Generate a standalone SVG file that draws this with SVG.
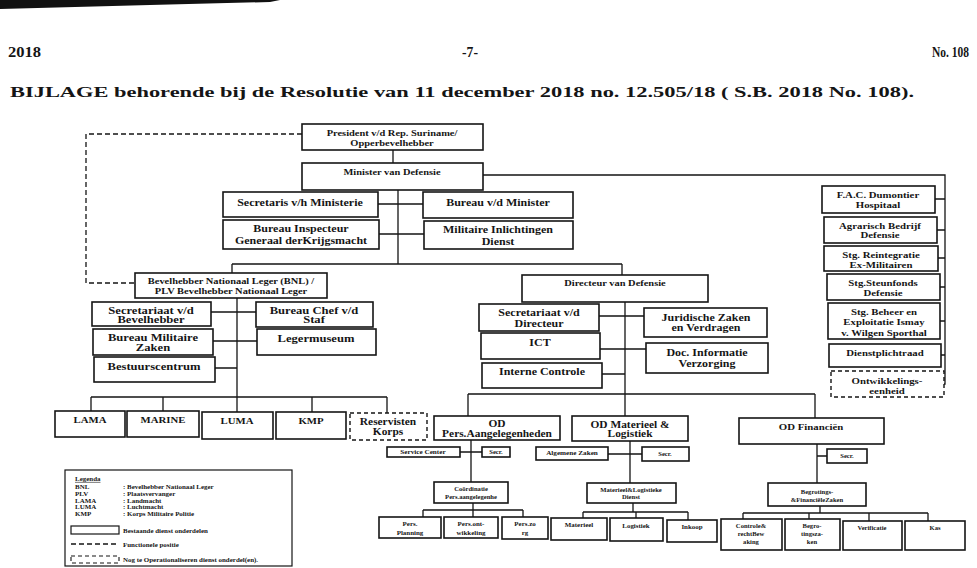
<svg xmlns="http://www.w3.org/2000/svg" width="977" height="568" viewBox="0 0 977 568">
<style>
.b{fill:#fff;stroke:#151515;stroke-width:1.6}
.d{fill:#fff;stroke:#151515;stroke-width:1.4;stroke-dasharray:4 3}
.ln{fill:none;stroke:#151515;stroke-width:1.3}
.dl{fill:none;stroke:#151515;stroke-width:1.3;stroke-dasharray:5 3}
text{font-family:"Liberation Serif","Times New Roman",serif;font-weight:bold;fill:#151515;text-anchor:middle}
.s{text-anchor:start}
.e{text-anchor:end}
.f10{font-size:10px}.f105{font-size:10.5px}.f9{font-size:9px}.f87{font-size:8.7px}.f95{font-size:9.5px}
.f7{font-size:6.7px}.f6{font-size:6px}.f58{font-size:5.8px}.f65{font-size:6.5px}.f55{font-size:5.5px}
</style>
<rect width="977" height="568" fill="#fff"/>
<path d="M0 0H280L270 2L150 5L0 9Z" fill="#111"/>
<g id="header">
<text class="s" x="8" y="57" font-size="14" textLength="33" lengthAdjust="spacingAndGlyphs">2018</text>
<text x="470" y="57" font-size="14" textLength="16" lengthAdjust="spacingAndGlyphs">-7-</text>
<text class="e" x="969" y="57" font-size="14" textLength="37" lengthAdjust="spacingAndGlyphs">No. 108</text>
<text class="s" x="10" y="97" font-size="14.5" textLength="904" lengthAdjust="spacingAndGlyphs">BIJLAGE behorende bij de Resolutie van 11 december 2018 no. 12.505/18 ( S.B. 2018 No. 108).</text>
</g>
<g id="connectors">
<path class="ln" d="M393 150V163"/>
<path class="ln" d="M483 175H945V384H944"/>
<path class="ln" d="M935 199H945M937 230H945M938 258H945M940 287H945M940 321H945M941 355H945"/>
<path class="ln" d="M398 190V264M378 204H423M379 234H424M232 264H622M232 264V273M622 264V275"/>
<path class="dl" d="M302 134H86V283H135"/>
<path class="ln" d="M237 298V397M211 312H256M213 341H257M215 368H237M91 397H387M91 397V411M163 397V411M237 397V412M312 397V412M387 397V413"/>
<path class="ln" d="M625 302V416M599 316H644M600 349H646M602 374H625M468 394H815M468 394V416M815 394V418"/>
<path class="ln" d="M471 440V482M460 452H482M630 441V483M608 454H642M817 444V483M817 456H827"/>
<path class="ln" d="M473 503V510M423 510H523M423 510V517M473 510V517M523 510V517"/>
<path class="ln" d="M633 503V512M583 512H688M583 512V518M636 512V518M688 512V520"/>
<path class="ln" d="M820 506V513M743 513H928M743 513V519M809 513V519M869 513V521M928 513V521"/>
</g>
<g id="president"><rect class="b" x="302" y="124" width="181" height="26"/>
<text class="f87" transform="matrix(1.2 0 0 1 392 0)" y="136">President v/d Rep. Suriname/</text>
<text class="f87" transform="matrix(1.2 0 0 1 392 0)" y="146">Opperbevelhebber</text></g>
<g id="minister"><rect class="b" x="302" y="163" width="181" height="27"/>
<text class="f87" transform="matrix(1.2 0 0 1 392 0)" y="175">Minister van Defensie</text></g>
<g id="secretaris"><rect class="b" x="223" y="192" width="155" height="25"/>
<text class="f10" transform="matrix(1.2 0 0 1 300 0)" y="206">Secretaris v/h Ministerie</text></g>
<g id="bureau-minister"><rect class="b" x="423" y="192" width="150" height="26"/>
<text class="f10" transform="matrix(1.2 0 0 1 498 0)" y="206">Bureau v/d Minister</text></g>
<g id="bureau-inspecteur"><rect class="b" x="223" y="220" width="156" height="29"/>
<text class="f10" transform="matrix(1.2 0 0 1 301 0)" y="232">Bureau Inspecteur</text>
<text class="f10" transform="matrix(1.2 0 0 1 301 0)" y="244">Generaal derKrijgsmacht</text></g>
<g id="mid"><rect class="b" x="424" y="221" width="149" height="28"/>
<text class="f10" transform="matrix(1.2 0 0 1 498 0)" y="233">Militaire Inlichtingen</text>
<text class="f10" transform="matrix(1.2 0 0 1 498 0)" y="245">Dienst</text></g>
<g id="fac"><rect class="b" x="822" y="186" width="113" height="27"/>
<text class="f9" transform="matrix(1.2 0 0 1 878 0)" y="198">F.A.C. Dumontier</text>
<text class="f9" transform="matrix(1.2 0 0 1 878 0)" y="208">Hospitaal</text></g>
<g id="agrarisch"><rect class="b" x="824" y="217" width="113" height="26"/>
<text class="f9" transform="matrix(1.2 0 0 1 880 0)" y="229">Agrarisch Bedrijf</text>
<text class="f9" transform="matrix(1.2 0 0 1 880 0)" y="238">Defensie</text></g>
<g id="reintegratie"><rect class="b" x="824" y="246" width="114" height="25"/>
<text class="f9" transform="matrix(1.2 0 0 1 881 0)" y="258">Stg. Reintegratie</text>
<text class="f9" transform="matrix(1.2 0 0 1 881 0)" y="268">Ex-Militairen</text></g>
<g id="steunfonds"><rect class="b" x="827" y="274" width="113" height="26"/>
<text class="f9" transform="matrix(1.2 0 0 1 883 0)" y="286">Stg.Steunfonds</text>
<text class="f9" transform="matrix(1.2 0 0 1 883 0)" y="296">Defensie</text></g>
<g id="sporthal"><rect class="b" x="828" y="303" width="112" height="36"/>
<text class="f9" transform="matrix(1.2 0 0 1 884 0)" y="315">Stg. Beheer en</text>
<text class="f9" transform="matrix(1.2 0 0 1 884 0)" y="325">Exploitatie Ismay</text>
<text class="f9" transform="matrix(1.2 0 0 1 884 0)" y="336">v. Wilgen Sporthal</text></g>
<g id="dienstplichtraad"><rect class="b" x="829" y="344" width="112" height="23"/>
<text class="f9" transform="matrix(1.2 0 0 1 885 0)" y="356">Dienstplichtraad</text></g>
<g id="ontwikkelings"><rect class="d" x="831" y="371" width="113" height="26"/>
<text class="f9" transform="matrix(1.2 0 0 1 887 0)" y="384">Ontwikkelings-</text>
<text class="f9" transform="matrix(1.2 0 0 1 887 0)" y="394">eenheid</text></g>
<g id="bnl"><rect class="b" x="135" y="273" width="192" height="25"/>
<text class="f87" transform="matrix(1.2 0 0 1 231 0)" y="284">Bevelhebber Nationaal Leger (BNL) /</text>
<text class="f87" transform="matrix(1.2 0 0 1 231 0)" y="294">PLV Bevelhebber Nationaal Leger</text></g>
<g id="sec-bevelhebber"><rect class="b" x="92" y="302" width="119" height="24"/>
<text class="f105" transform="matrix(1.2 0 0 1 151 0)" y="314">Secretariaat v/d</text>
<text class="f105" transform="matrix(1.2 0 0 1 151 0)" y="323">Bevelhebber</text></g>
<g id="chef-staf"><rect class="b" x="256" y="302" width="117" height="25"/>
<text class="f105" transform="matrix(1.2 0 0 1 314 0)" y="314">Bureau Chef v/d</text>
<text class="f105" transform="matrix(1.2 0 0 1 314 0)" y="323">Staf</text></g>
<g id="militaire-zaken"><rect class="b" x="93" y="329" width="120" height="26"/>
<text class="f105" transform="matrix(1.2 0 0 1 153 0)" y="341">Bureau Militaire</text>
<text class="f105" transform="matrix(1.2 0 0 1 153 0)" y="351">Zaken</text></g>
<g id="legermuseum"><rect class="b" x="257" y="329" width="119" height="26"/>
<text class="f105" transform="matrix(1.2 0 0 1 316 0)" y="342">Legermuseum</text></g>
<g id="bestuurscentrum"><rect class="b" x="94" y="357" width="121" height="25"/>
<text class="f105" transform="matrix(1.2 0 0 1 154 0)" y="370">Bestuurscentrum</text></g>
<g id="lama"><rect class="b" x="55" y="411" width="70" height="26"/>
<text class="f9" transform="matrix(1.2 0 0 1 90 0)" y="423">LAMA</text></g>
<g id="marine"><rect class="b" x="127" y="411" width="72" height="26"/>
<text class="f9" transform="matrix(1.2 0 0 1 163 0)" y="423">MARINE</text></g>
<g id="luma"><rect class="b" x="202" y="412" width="71" height="27"/>
<text class="f9" transform="matrix(1.2 0 0 1 237 0)" y="424">LUMA</text></g>
<g id="kmp"><rect class="b" x="276" y="412" width="70" height="27"/>
<text class="f9" transform="matrix(1.2 0 0 1 311 0)" y="424">KMP</text></g>
<g id="reservisten"><rect class="d" x="350" y="413" width="77" height="27"/>
<text class="f95" transform="matrix(1.2 0 0 1 388 0)" y="425">Reservisten</text>
<text class="f95" transform="matrix(1.2 0 0 1 388 0)" y="435">Korps</text></g>
<g id="directeur"><rect class="b" x="522" y="275" width="186" height="27"/>
<text class="f87" transform="matrix(1.2 0 0 1 615 0)" y="286">Directeur van Defensie</text></g>
<g id="sec-directeur"><rect class="b" x="479" y="304" width="120" height="27"/>
<text class="f10" transform="matrix(1.2 0 0 1 539 0)" y="316">Secretariaat v/d</text>
<text class="f10" transform="matrix(1.2 0 0 1 539 0)" y="327">Directeur</text></g>
<g id="juridische"><rect class="b" x="644" y="308" width="123" height="29"/>
<text class="f10" transform="matrix(1.2 0 0 1 706 0)" y="321">Juridische Zaken</text>
<text class="f10" transform="matrix(1.2 0 0 1 706 0)" y="331">en Verdragen</text></g>
<g id="ict"><rect class="b" x="481" y="333" width="119" height="26"/>
<text class="f10" transform="matrix(1.2 0 0 1 540 0)" y="346">ICT</text></g>
<g id="doc-info"><rect class="b" x="646" y="343" width="122" height="30"/>
<text class="f10" transform="matrix(1.2 0 0 1 707 0)" y="356">Doc. Informatie</text>
<text class="f10" transform="matrix(1.2 0 0 1 707 0)" y="367">Verzorging</text></g>
<g id="interne-controle"><rect class="b" x="482" y="363" width="120" height="25"/>
<text class="f10" transform="matrix(1.2 0 0 1 542 0)" y="375">Interne Controle</text></g>
<g id="od-pers"><rect class="b" x="434" y="416" width="126" height="24"/>
<text class="f95" transform="matrix(1.2 0 0 1 497 0)" y="427">OD</text>
<text class="f95" transform="matrix(1.2 0 0 1 497 0)" y="437">Pers.Aangelegenheden</text></g>
<g id="od-materieel"><rect class="b" x="572" y="416" width="116" height="25"/>
<text class="f95" transform="matrix(1.2 0 0 1 630 0)" y="428">OD Materieel &amp;</text>
<text class="f95" transform="matrix(1.2 0 0 1 630 0)" y="437">Logistiek</text></g>
<g id="od-financien"><rect class="b" x="739" y="418" width="145" height="26"/>
<text class="f9" transform="matrix(1.2 0 0 1 811 0)" y="430">OD Financiën</text></g>
<g id="service-center"><rect class="b" x="387" y="447" width="73" height="10"/>
<text class="f6" transform="matrix(1.2 0 0 1 423 0)" y="454.5">Service Center</text></g>
<g id="secr-pers"><rect class="b" x="482" y="447" width="28" height="10"/>
<text class="f55" transform="matrix(1.2 0 0 1 496 0)" y="454.5">Secr.</text></g>
<g id="algemene-zaken"><rect class="b" x="536" y="447" width="72" height="13"/>
<text class="f6" transform="matrix(1.2 0 0 1 572 0)" y="455.5">Algemene Zaken</text></g>
<g id="secr-mat"><rect class="b" x="642" y="447" width="47" height="14"/>
<text class="f55" transform="matrix(1.2 0 0 1 665 0)" y="456">Secr.</text></g>
<g id="secr-fin"><rect class="b" x="827" y="449" width="40" height="14"/>
<text class="f55" transform="matrix(1.2 0 0 1 847 0)" y="458">Secr.</text></g>
<g id="coordinatie"><rect class="b" x="434" y="482" width="74" height="21"/>
<text class="f55" transform="matrix(1.2 0 0 1 471 0)" y="491">Coördinatie</text>
<text class="f55" transform="matrix(1.2 0 0 1 471 0)" y="499">Pers.aangelegenhe</text></g>
<g id="mat-log-dienst"><rect class="b" x="587" y="483" width="89" height="20"/>
<text class="f55" transform="matrix(1.2 0 0 1 631 0)" y="492">Materieel&amp;Logistieke</text>
<text class="f55" transform="matrix(1.2 0 0 1 631 0)" y="499.5">Dienst</text></g>
<g id="begrotings"><rect class="b" x="768" y="483" width="98" height="23"/>
<text class="f55" transform="matrix(1.2 0 0 1 817 0)" y="494">Begrotings-</text>
<text class="f55" transform="matrix(1.2 0 0 1 817 0)" y="502">&amp;FinanciëleZaken</text></g>
<g id="pers-planning"><rect class="b" x="379" y="517" width="62" height="21"/>
<text class="f58" transform="matrix(1.2 0 0 1 410 0)" y="526">Pers.</text>
<text class="f58" transform="matrix(1.2 0 0 1 410 0)" y="535">Planning</text></g>
<g id="pers-ont"><rect class="b" x="444" y="517" width="54" height="21"/>
<text class="f58" transform="matrix(1.2 0 0 1 471 0)" y="526">Pers.ont-</text>
<text class="f58" transform="matrix(1.2 0 0 1 471 0)" y="535">wikkeling</text></g>
<g id="pers-zorg"><rect class="b" x="502" y="517" width="46" height="22"/>
<text class="f58" transform="matrix(1.2 0 0 1 525 0)" y="526">Pers.zo</text>
<text class="f58" transform="matrix(1.2 0 0 1 525 0)" y="535">rg</text></g>
<g id="materieel"><rect class="b" x="551" y="518" width="56" height="22"/>
<text class="f58" transform="matrix(1.2 0 0 1 579 0)" y="527.5">Materieel</text></g>
<g id="logistiek"><rect class="b" x="610" y="518" width="53" height="23"/>
<text class="f58" transform="matrix(1.2 0 0 1 636 0)" y="528">Logistiek</text></g>
<g id="inkoop"><rect class="b" x="667" y="520" width="50" height="22"/>
<text class="f58" transform="matrix(1.2 0 0 1 692 0)" y="529">Inkoop</text></g>
<g id="controle"><rect class="b" x="721" y="519" width="61" height="31"/>
<text class="f55" transform="matrix(1.2 0 0 1 751 0)" y="528">Controle&amp;</text>
<text class="f55" transform="matrix(1.2 0 0 1 751 0)" y="536">rechtBew</text>
<text class="f55" transform="matrix(1.2 0 0 1 751 0)" y="544">aking</text></g>
<g id="begro-zaken"><rect class="b" x="785" y="519" width="55" height="31"/>
<text class="f55" transform="matrix(1.2 0 0 1 812 0)" y="528">Begro-</text>
<text class="f55" transform="matrix(1.2 0 0 1 812 0)" y="536">tingsza-</text>
<text class="f55" transform="matrix(1.2 0 0 1 812 0)" y="544">ken</text></g>
<g id="verificatie"><rect class="b" x="843" y="521" width="59" height="29"/>
<text class="f55" transform="matrix(1.2 0 0 1 872 0)" y="530">Verificatie</text></g>
<g id="kas"><rect class="b" x="905" y="521" width="60" height="29"/>
<text class="f55" transform="matrix(1.2 0 0 1 935 0)" y="530">Kas</text></g>
<g id="legend">
<rect x="65" y="470" width="227" height="96" fill="#fff" stroke="#151515" stroke-width="1.2"/>
<text class="s f58" transform="matrix(1.2 0 0 1 75 0)" y="481" text-decoration="underline">Legenda</text>
<text class="s f58" transform="matrix(1.2 0 0 1 75 0)" y="489">BNL</text>
<text class="s f58" transform="matrix(1.2 0 0 1 75 0)" y="496">PLV</text>
<text class="s f58" transform="matrix(1.2 0 0 1 75 0)" y="503">LAMA</text>
<text class="s f58" transform="matrix(1.2 0 0 1 75 0)" y="509.5">LUMA</text>
<text class="s f58" transform="matrix(1.2 0 0 1 75 0)" y="516">KMP</text>
<text class="s f58" transform="matrix(1.2 0 0 1 123 0)" y="489">: Bevelhebber Nationaal Leger</text>
<text class="s f58" transform="matrix(1.2 0 0 1 123 0)" y="496">: Plaatsvervanger</text>
<text class="s f58" transform="matrix(1.2 0 0 1 123 0)" y="503">: Landmacht</text>
<text class="s f58" transform="matrix(1.2 0 0 1 123 0)" y="509.5">: Luchtmacht</text>
<text class="s f58" transform="matrix(1.2 0 0 1 123 0)" y="516">: Korps Militaire Politie</text>
<rect x="71" y="526" width="48" height="8" fill="#fff" stroke="#151515" stroke-width="1.2"/>
<text class="s f58" transform="matrix(1.2 0 0 1 123 0)" y="533">Bestaande dienst onderdelen</text>
<path class="dl" d="M71 544H119"/>
<text class="s f58" transform="matrix(1.2 0 0 1 123 0)" y="547">Functionele positie</text>
<rect x="71" y="556" width="48" height="7" fill="#fff" stroke="#151515" stroke-width="1.1" stroke-dasharray="4 3"/>
<text class="s f58" transform="matrix(1.2 0 0 1 123 0)" y="562">Nog te Operationaliseren dienst onderdel(en).</text>
</g>
</svg>
